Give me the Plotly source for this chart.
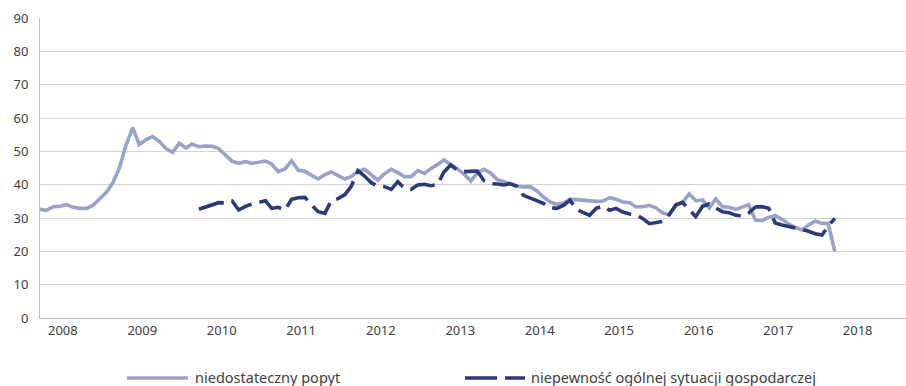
import pandas as pd
import plotly.graph_objects as go

# ---- data ----
months = pd.date_range("2008-04-01", periods=121, freq="MS").strftime("%Y-%m-%d").tolist()

niedostateczny_popyt = [
    32.6, 32.3, 33.4, 33.5, 34.0, 33.2, 32.9, 32.9, 33.8, 35.8,
    37.8, 40.5, 45.0, 51.8, 57.1, 52.0, 53.5, 54.4, 53.0, 50.8,
    49.7, 52.4, 51.0, 52.2, 51.4, 51.6, 51.5, 50.8, 48.8, 47.0,
    46.4, 46.9, 46.4, 46.7, 47.1, 46.2, 43.9, 44.7, 47.1, 44.4,
    44.0, 42.8, 41.7, 43.0, 43.8, 42.7, 41.7, 42.5, 44.0, 44.6,
    42.9, 41.4, 43.3, 44.6, 43.6, 42.4, 42.4, 44.2, 43.4, 44.8,
    46.0, 47.4, 46.0, 44.8, 43.2, 41.0, 43.5, 44.6, 43.5, 41.5,
    40.9, 40.2, 39.5, 39.3, 39.4, 38.2, 36.3, 34.8, 34.1, 34.5,
    35.6, 35.5, 35.3, 35.2, 35.0, 35.1, 36.1, 35.6, 34.8, 34.6,
    33.3, 33.4, 33.8, 33.0, 31.5, 31.0, 33.7, 34.6, 37.2, 35.2,
    35.4, 33.0, 35.7, 33.4, 33.2, 32.6, 33.2, 34.0, 29.4, 29.2,
    30.2, 30.8, 29.6, 28.2, 27.2, 26.4, 27.9, 29.1, 28.4, 28.4,
    19.9,
]

niepewnosc = [None] * 24 + [
    32.6, 33.2, 33.9, 34.6, 34.5, 35.1, 32.4, 33.5, 34.2, 34.7,
    35.2, 32.9, 33.2, 32.4, 35.6, 36.1, 36.2, 33.9, 31.9, 31.4,
    35.3, 35.8, 37.0, 39.5, 44.2, 42.6, 40.6, 39.6, 39.4, 38.6,
    40.9, 38.9, 38.6, 39.9, 40.1, 39.7, 40.0, 43.8, 45.9, 44.4,
    43.9, 44.0, 44.1, 41.2, 40.3, 40.2, 39.9, 40.3, 39.5, 36.8,
    36.0, 35.4, 34.4, 33.1, 32.9, 33.8, 35.4, 32.5, 31.5, 30.8,
    32.9, 33.6, 32.3, 32.9, 31.8, 31.2, 31.0, 29.8, 28.3, 28.6,
    29.0, 31.0, 34.0, 34.7, 32.6, 30.4, 33.5, 34.2, 33.0, 31.9,
    31.6, 30.8, 30.6, 31.5, 33.3, 33.4, 32.9, 28.5, 27.9, 27.5,
    27.0, 26.6, 26.0, 25.3, 24.9, 27.5, 29.9,
]

years = [str(y) for y in range(2008, 2019)]
year_ticks = [f"{y}-07-15" for y in years]
y_ticks = list(range(0, 91, 10))

series_names = ["niedostateczny popyt", "niepewność ogólnej sytuacji gospodarczej"]

LIGHT = "#9aa2c8"
DARK = "#2c3a7a"
TEXT = "#404040"
GRID = "#d4d4d4"

fig = go.Figure()
fig.add_trace(go.Scatter(x=months, y=niedostateczny_popyt, mode="lines",
                         name=series_names[0],
                         line=dict(color=LIGHT, width=3.6), showlegend=False))
fig.add_trace(go.Scatter(x=months, y=niepewnosc, mode="lines",
                         name=series_names[1], connectgaps=False,
                         line=dict(color=DARK, width=3.6, dash="26px,8px"),
                         showlegend=False))

W, H = 906, 386
L, R, T, B = 40, 0, 18, 68
pw = W - L - R
ph = H - T - B

def px(xpix):
    return (xpix - L) / pw

def py(ypix):
    return (H - B - ypix) / ph

# custom legend
leg_y = py(377)
fig.add_shape(type="line", xref="paper", yref="paper",
              x0=px(127), x1=px(188), y0=py(378), y1=py(378),
              line=dict(color=LIGHT, width=3.6))
fig.add_shape(type="line", xref="paper", yref="paper",
              x0=px(465), x1=px(525), y0=py(378), y1=py(378),
              line=dict(color=DARK, width=3.6, dash="32px,8px"))
fig.add_annotation(xref="paper", yref="paper", x=px(193), y=leg_y,
                   text=series_names[0], showarrow=False,
                   xanchor="left", yanchor="middle",
                   font=dict(size=14.5, color=TEXT))
fig.add_annotation(xref="paper", yref="paper", x=px(529), y=leg_y,
                   text=series_names[1], showarrow=False,
                   xanchor="left", yanchor="middle",
                   font=dict(size=14.5, color=TEXT))

fig.update_layout(
    width=W, height=H,
    margin=dict(l=L, r=R, t=T, b=B, pad=0),
    paper_bgcolor="white", plot_bgcolor="white",
    font=dict(family="Noto Sans, Open Sans, sans-serif", size=13, color=TEXT),
    xaxis=dict(
        type="date",
        range=["2008-04-01", "2019-02-22"],
        tickmode="array", tickvals=year_ticks, ticktext=years,
        showgrid=False, showline=True, linecolor="#bfbfbf", linewidth=1,
        ticks="", tickfont=dict(size=13, color=TEXT), zeroline=False,
    ),
    yaxis=dict(
        range=[0, 90], tickmode="array", tickvals=y_ticks,
        showgrid=True, gridcolor=GRID, gridwidth=1,
        showline=True, linecolor="#bfbfbf", linewidth=1,
        ticks="", tickfont=dict(size=13, color=TEXT), zeroline=False,
        ticklabelstandoff=8,
    ),
)

fig.write_html("out.html")
